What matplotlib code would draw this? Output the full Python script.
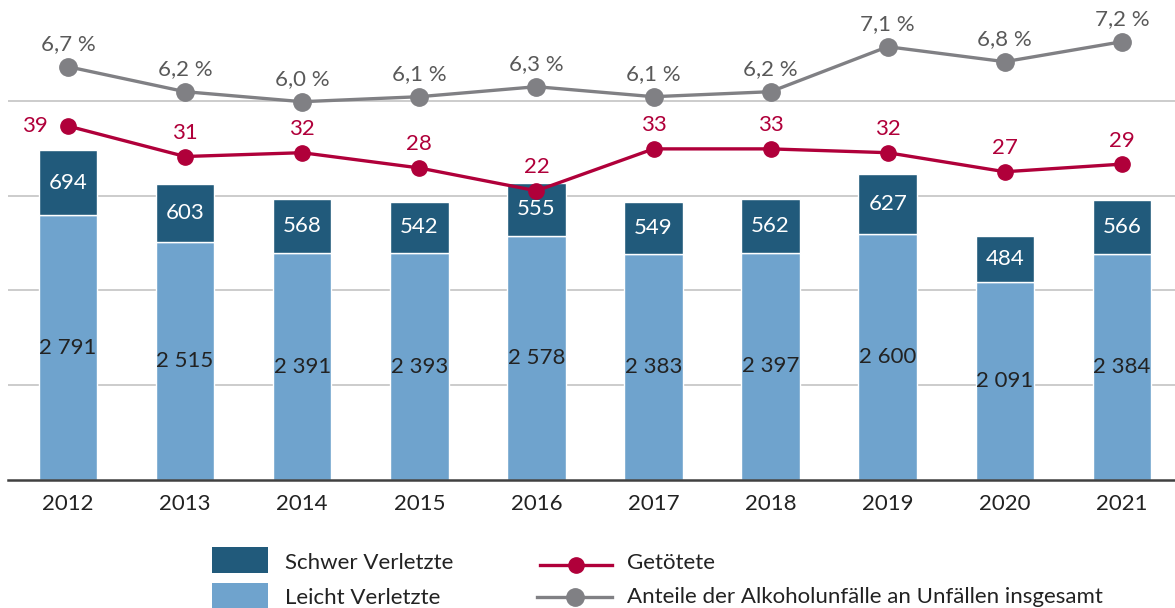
import matplotlib
matplotlib.use("Agg")
import matplotlib.pyplot as plt
from matplotlib.patches import Rectangle
from matplotlib.lines import Line2D
import numpy as np

years = ["2012", "2013", "2014", "2015", "2016", "2017", "2018", "2019", "2020", "2021"]
leicht = [2791, 2515, 2391, 2393, 2578, 2383, 2397, 2600, 2091, 2384]
schwer = [694, 603, 568, 542, 555, 549, 562, 627, 484, 566]
getoetete = [39, 31, 32, 28, 22, 33, 33, 32, 27, 29]
anteil = [6.7, 6.2, 6.0, 6.1, 6.3, 6.1, 6.2, 7.1, 6.8, 7.2]

C_DARK = "#215a7b"
C_LIGHT = "#6fa3cd"
C_RED = "#b0003a"
C_GREY = "#808084"
C_GREY_TXT = "#595959"
FONT = "Lato"
FS = 16

plt.rcParams["font.family"] = [FONT, "DejaVu Sans"]

W, H = 1175, 608
fig = plt.figure(figsize=(W / 100, H / 100), dpi=100)

def px_rect(l, t, r, b):
    return [l / W, 1 - b / H, (r - l) / W, (b - t) / H]

ax = fig.add_axes(px_rect(8, 6, 1175, 480))
x = np.arange(len(years))

def fmt(v):
    return f"{v:,}".replace(",", " ")

ax.bar(x, leicht, width=0.5, color=C_LIGHT, edgecolor="white", linewidth=1, zorder=2)
ax.bar(x, schwer, bottom=leicht, width=0.5, color=C_DARK, edgecolor="white", linewidth=1, zorder=2)
for xi, l, s in zip(x, leicht, schwer):
    ax.text(xi, l / 2, fmt(l), ha="center", va="center", fontsize=FS, color="#222222", zorder=5)
    ax.text(xi, l + s / 2, fmt(s), ha="center", va="center", fontsize=FS, color="white", zorder=5)

ax.set_xlim(-0.512, 9.453)
ax.set_ylim(0, 5000)
ax.set_yticks([1000, 2000, 3000, 4000])
ax.yaxis.grid(True, color="#c8c8c8", linewidth=1.3, zorder=0)
ax.set_axisbelow(True)
ax.set_xticks(x)
ax.set_xticklabels(years, fontsize=FS, color="#222222")
ax.tick_params(axis="x", length=0, pad=10)
for s in ["top", "right", "left"]:
    ax.spines[s].set_visible(False)
ax.spines["bottom"].set_color("#404040")
ax.spines["bottom"].set_linewidth(1.8)
ax.patch.set_visible(False)

ax2 = ax.twinx()
ax2.set_ylim(-53.9, 70.5)
ax2.plot(x, getoetete, color=C_RED, linewidth=2.4, marker="o", markersize=11, zorder=4)
for xi, v in zip(x, getoetete):
    if xi == 0:
        ax2.annotate(str(v), (xi, v), xytext=(-24, 0), textcoords="offset points",
                     ha="center", va="center", fontsize=FS, color=C_RED)
    else:
        ax2.annotate(str(v), (xi, v), xytext=(0, 17), textcoords="offset points",
                     ha="center", va="center", fontsize=FS, color=C_RED)
ax2.axis("off")

ax3 = ax.twinx()
ax3.set_ylim(-1.566, 7.914)
ax3.plot(x, anteil, color=C_GREY, linewidth=2.4, marker="o", markersize=12.5, zorder=4)
for xi, v in zip(x, anteil):
    ax3.annotate(f"{v:.1f} %".replace(".", ","), (xi, v), xytext=(0, 16.5), textcoords="offset points",
                 ha="center", va="center", fontsize=FS, color=C_GREY_TXT)
ax3.axis("off")

# twinx re-enables left ticks on the host axes; hide them afterwards
ax.tick_params(axis="y", left=False, right=False, labelleft=False, labelright=False)

# Legend (manual)
def fx(px):
    return px / W

def fy(py):
    return 1 - py / H

fig.add_artist(Rectangle((fx(212), fy(573)), (268 - 212) / W, 26 / H, transform=fig.transFigure,
                         facecolor=C_DARK, edgecolor="none"))
fig.add_artist(Rectangle((fx(212), fy(609)), (268 - 212) / W, 26 / H, transform=fig.transFigure,
                         facecolor=C_LIGHT, edgecolor="none"))
fig.text(fx(285), fy(563), "Schwer Verletzte", fontsize=FS, color="#222222", va="center", ha="left")
fig.text(fx(285), fy(598), "Leicht Verletzte", fontsize=FS, color="#222222", va="center", ha="left")

fig.add_artist(Line2D([fx(540), fx(612)], [fy(565), fy(565)], transform=fig.transFigure,
                      color=C_RED, linewidth=2.4))
fig.add_artist(Line2D([fx(576)], [fy(565)], transform=fig.transFigure,
                      color=C_RED, marker="o", markersize=11, linestyle="none"))
fig.add_artist(Line2D([fx(537), fx(612)], [fy(597), fy(597)], transform=fig.transFigure,
                      color=C_GREY, linewidth=2.4))
fig.add_artist(Line2D([fx(575)], [fy(597)], transform=fig.transFigure,
                      color=C_GREY, marker="o", markersize=12.5, linestyle="none"))
fig.text(fx(627), fy(563), "Getötete", fontsize=FS, color="#222222", va="center", ha="left")
fig.text(fx(627), fy(597), "Anteile der Alkoholunfälle an Unfällen insgesamt", fontsize=FS,
         color="#222222", va="center", ha="left")

fig.savefig("out.png", dpi=100)
